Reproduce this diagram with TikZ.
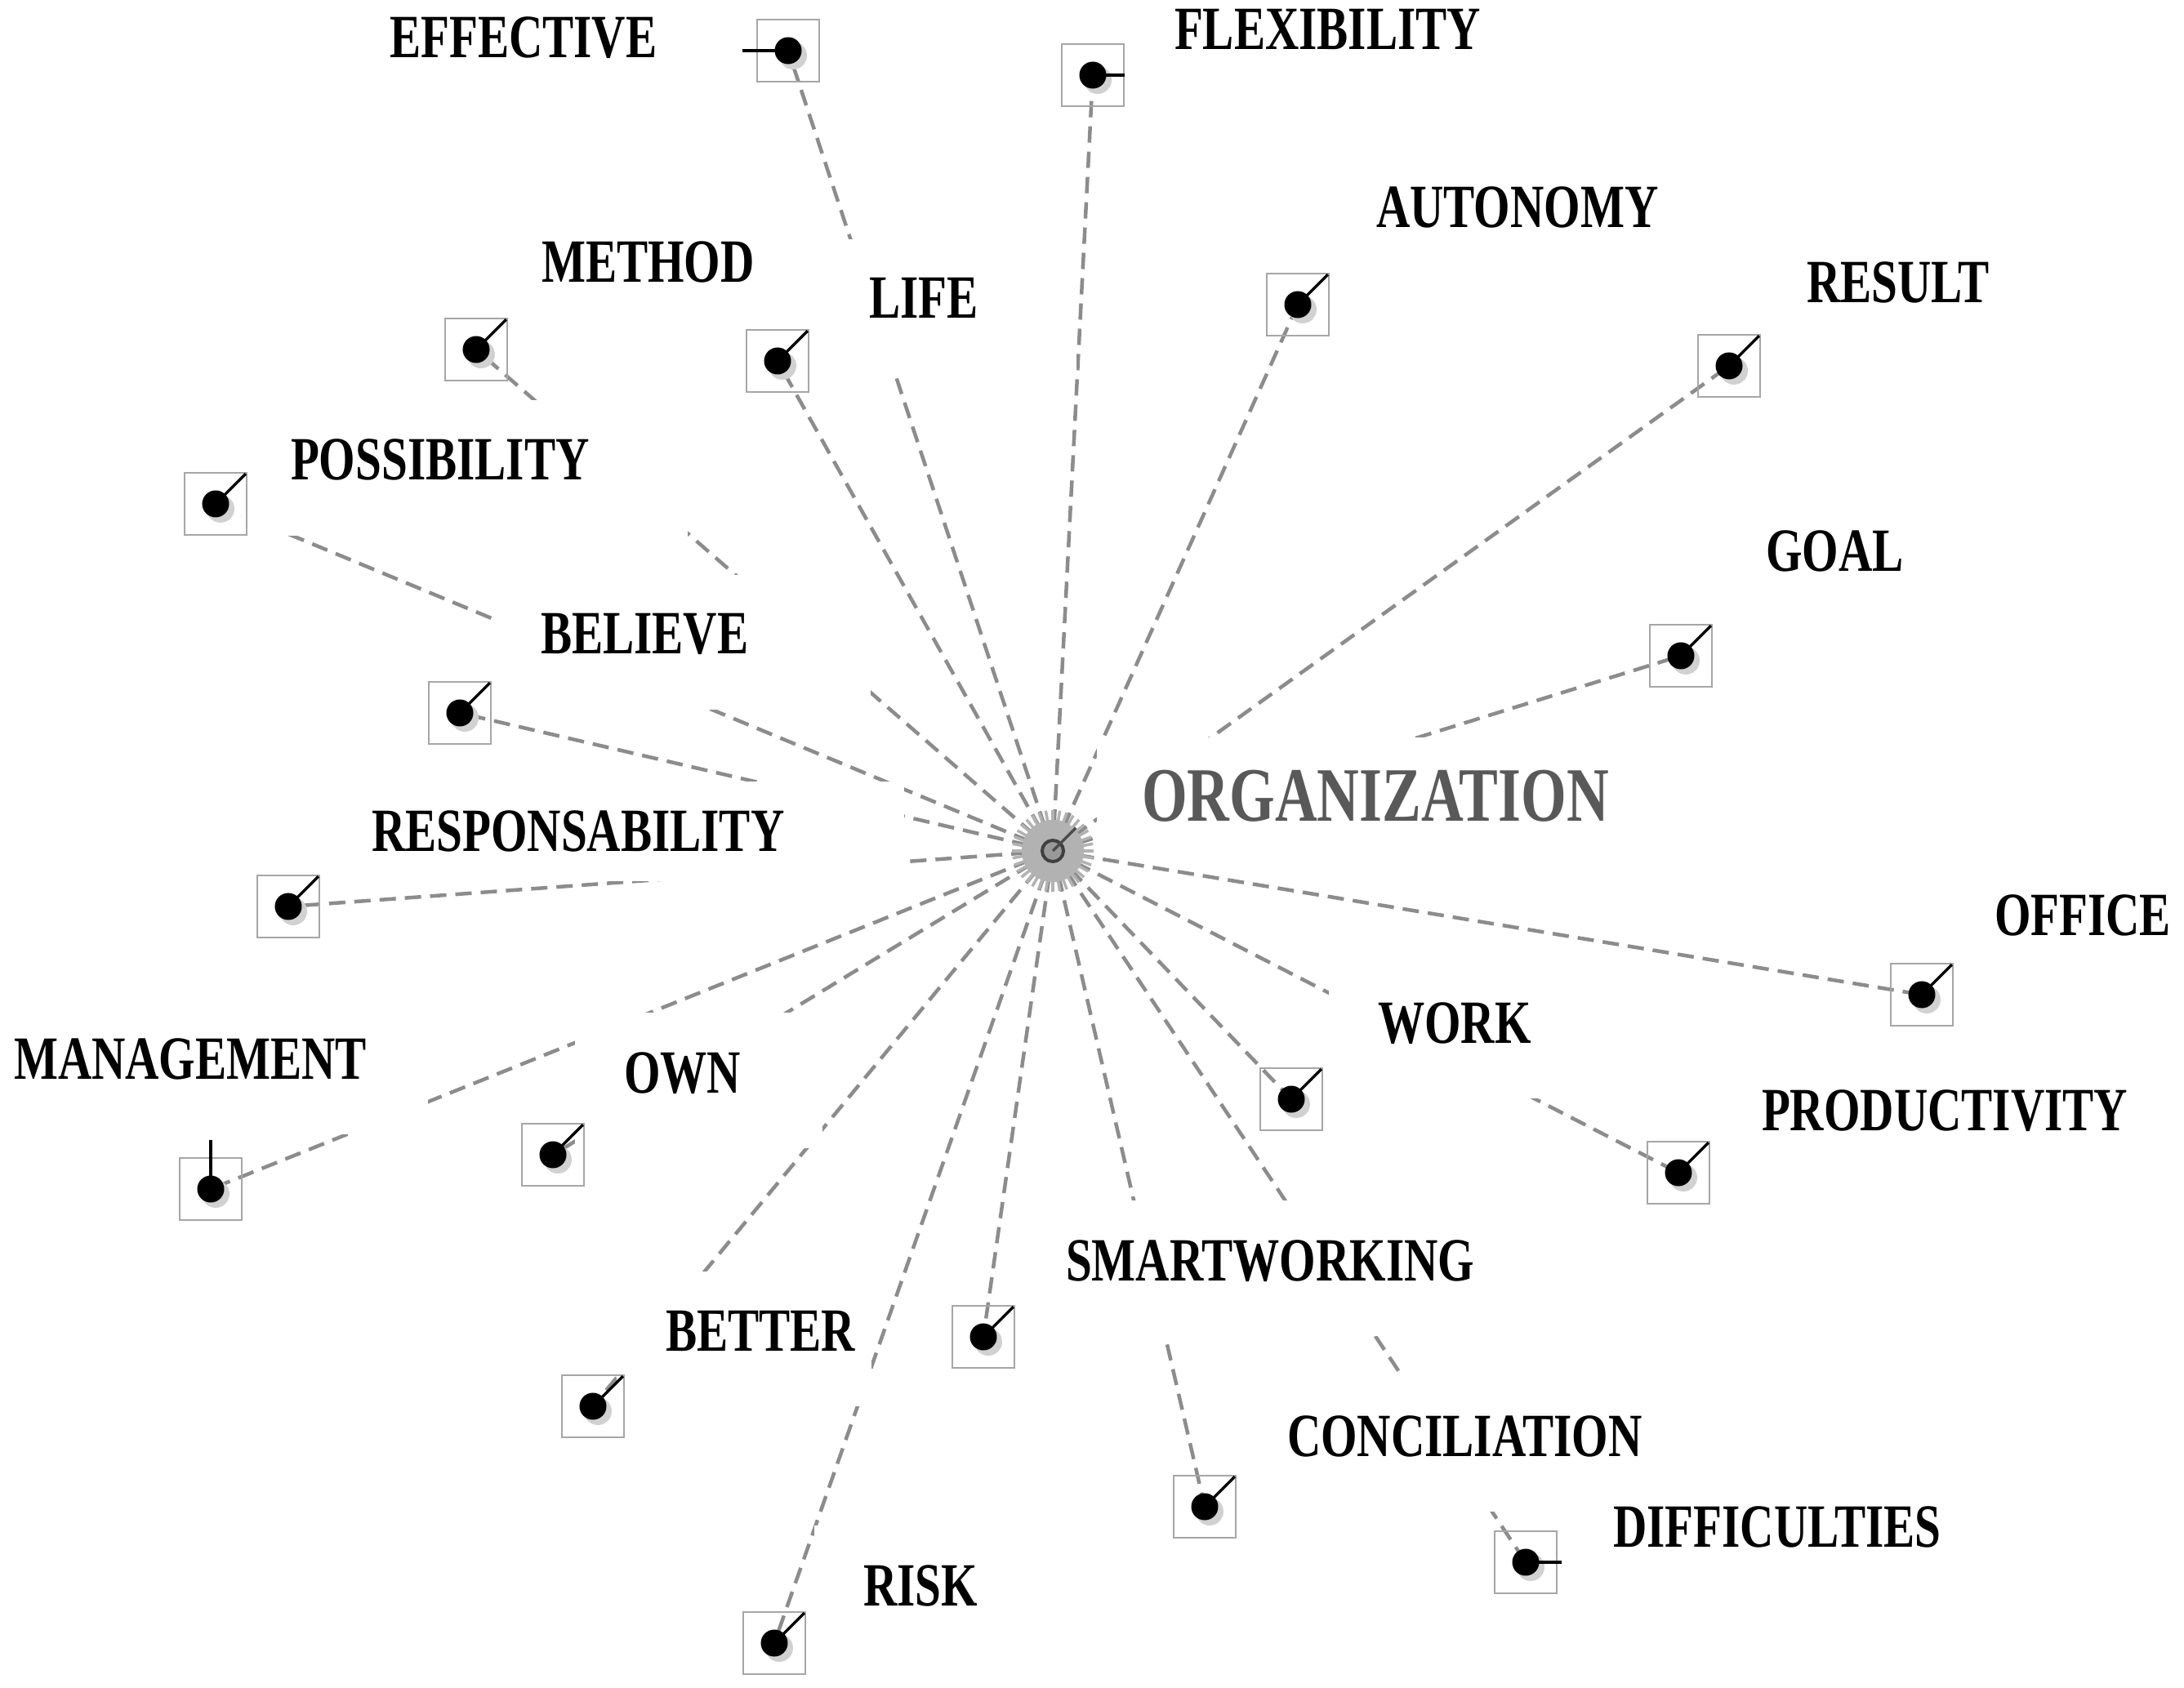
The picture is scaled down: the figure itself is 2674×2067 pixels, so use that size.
\documentclass[tikz,border=0pt]{standalone}
\usepackage{fontspec}
\setmainfont{Liberation Serif}[FakeStretch=0.76]

\tikzset{
  lbl/.style={font=\bfseries\fontsize{21.4pt}{24pt}\selectfont, fill=white,
    anchor=base west, inner xsep=0.6cm, inner ysep=0.48cm, text depth=0.2cm,
    outer sep=0pt, execute at end node={\hspace*{#1}}},
  lbl/.default=0.6cm,
  link/.style={draw=black!45, line width=0.045cm, dash pattern=on 0.2cm off 0.11cm},
  mbox/.style={draw=black!35, line width=0.022cm, minimum size=0.76cm,
    inner sep=0pt, outer sep=0pt},
  mtick/.style={line width=0.035cm},
  ray/.style={draw=black!30, line width=0.035cm}
}

% one word marker: box, shadow, tick, dot
\newcommand{\wmark}[3]{%
  \node[mbox] (#1-box) at (#1) {};
  \fill[black!18] ([shift={(0.06cm,-0.06cm)}]#1) circle (0.17cm);
  \draw[mtick] (#1) -- ++(#2:#3);
  \fill (#1) circle (0.165cm);
}

\begin{document}
\begin{tikzpicture}[x=0.01cm, y=-0.01cm]
  \useasboundingbox (0,0) rectangle (2674,2067);

  \coordinate (hub) at (1289,1042);
  \coordinate (effective) at (965,62);
  \coordinate (flexibility) at (1338,92);
  \coordinate (autonomy) at (1589,373);
  \coordinate (result) at (2117,448);
  \coordinate (goal) at (2058,803);
  \coordinate (office) at (2353,1218);
  \coordinate (productivity) at (2055,1436);
  \coordinate (work) at (1581,1346);
  \coordinate (smartworking) at (1204,1637);
  \coordinate (conciliation) at (1475,1845);
  \coordinate (difficulties) at (1868,1913);
  \coordinate (risk) at (948,2012);
  \coordinate (better) at (726,1722);
  \coordinate (own) at (677,1414);
  \coordinate (management) at (258,1456);
  \coordinate (responsability) at (353,1110);
  \coordinate (believe) at (563,873);
  \coordinate (possibility) at (264,617);
  \coordinate (method) at (583,428);
  \coordinate (life) at (952,442);

  % connectors
  \foreach \n in {effective,flexibility,autonomy,result,goal,office,
      productivity,work,smartworking,conciliation,difficulties,risk,better,
      own,management,responsability,believe,possibility,method,life}
    \draw[link] (hub) -- (\n);

  % centre
  \foreach \a in {0,10,...,350}
    \draw[ray] (hub) -- ++(\a:0.5cm);
  \foreach \a in {5,15,...,355}
    \draw[ray] (hub) -- ++(\a:0.38cm);
  \filldraw[fill=black!40, draw=black!75, line width=0.04cm] (hub) circle (0.13cm);
  \draw[black!70, line width=0.035cm] (hub) -- ++(45:0.4cm);

  % words
  \node[lbl, font=\bfseries\fontsize{26.8pt}{30pt}\selectfont, text=black!65,
    inner xsep=0.55cm, inner ysep=0.4cm, text depth=0pt]
    (organization-lbl) at (1343,1005) {ORGANIZATION};
  \node[lbl] (effective-lbl) at (417,71) {EFFECTIVE};
  \node[lbl] (flexibility-lbl) at (1378,61) {FLEXIBILITY};
  \node[lbl] (autonomy-lbl) at (1625,279) {AUTONOMY};
  \node[lbl] (result-lbl) at (2152,371) {RESULT};
  \node[lbl] (goal-lbl) at (2102,700) {GOAL};
  \node[lbl] (office-lbl) at (2382,1145) {OFFICE};
  \node[lbl] (productivity-lbl) at (2097,1384) {PRODUCTIVITY};
  \node[lbl] (work-lbl) at (1627,1277) {WORK};
  \node[lbl] (smartworking-lbl) at (1245,1568) {SMARTWORKING};
  \node[lbl] (conciliation-lbl) at (1516,1783) {CONCILIATION};
  \node[lbl] (difficulties-lbl) at (1915,1894) {DIFFICULTIES};
  \node[lbl] (risk-lbl) at (997,1966) {RISK};
  \node[lbl=-0.4cm] (better-lbl) at (755,1654) {BETTER};
  \node[lbl=0.4cm] (own-lbl) at (704,1338) {OWN};
  \node[lbl=0.15cm] (management-lbl) at (-43,1321) {MANAGEMENT};
  \node[lbl=0.87cm, text depth=0pt, inner ysep=0.36cm]
    (responsability-lbl) at (395,1043) {RESPONSABILITY};
  \node[lbl=0.9cm] (believe-lbl) at (602,801) {BELIEVE};
  \node[lbl] (possibility-lbl) at (296,588) {POSSIBILITY};
  \node[lbl=0cm] (method-lbl) at (603,346) {METHOD};
  \node[lbl] (life-lbl) at (1004,390) {LIFE};

  % markers
  \wmark{effective}{180}{0.56cm}
  \wmark{flexibility}{0}{0.39cm}
  \wmark{autonomy}{45}{0.52cm}
  \wmark{result}{45}{0.52cm}
  \wmark{goal}{45}{0.52cm}
  \wmark{office}{45}{0.52cm}
  \wmark{productivity}{45}{0.52cm}
  \wmark{work}{45}{0.52cm}
  \wmark{smartworking}{45}{0.52cm}
  \wmark{conciliation}{45}{0.52cm}
  \wmark{difficulties}{0}{0.44cm}
  \wmark{risk}{45}{0.52cm}
  \wmark{better}{45}{0.52cm}
  \wmark{own}{45}{0.52cm}
  \wmark{management}{90}{0.6cm}
  \wmark{responsability}{45}{0.52cm}
  \wmark{believe}{45}{0.52cm}
  \wmark{possibility}{45}{0.52cm}
  \wmark{method}{45}{0.52cm}
  \wmark{life}{45}{0.52cm}
\end{tikzpicture}
\end{document}
